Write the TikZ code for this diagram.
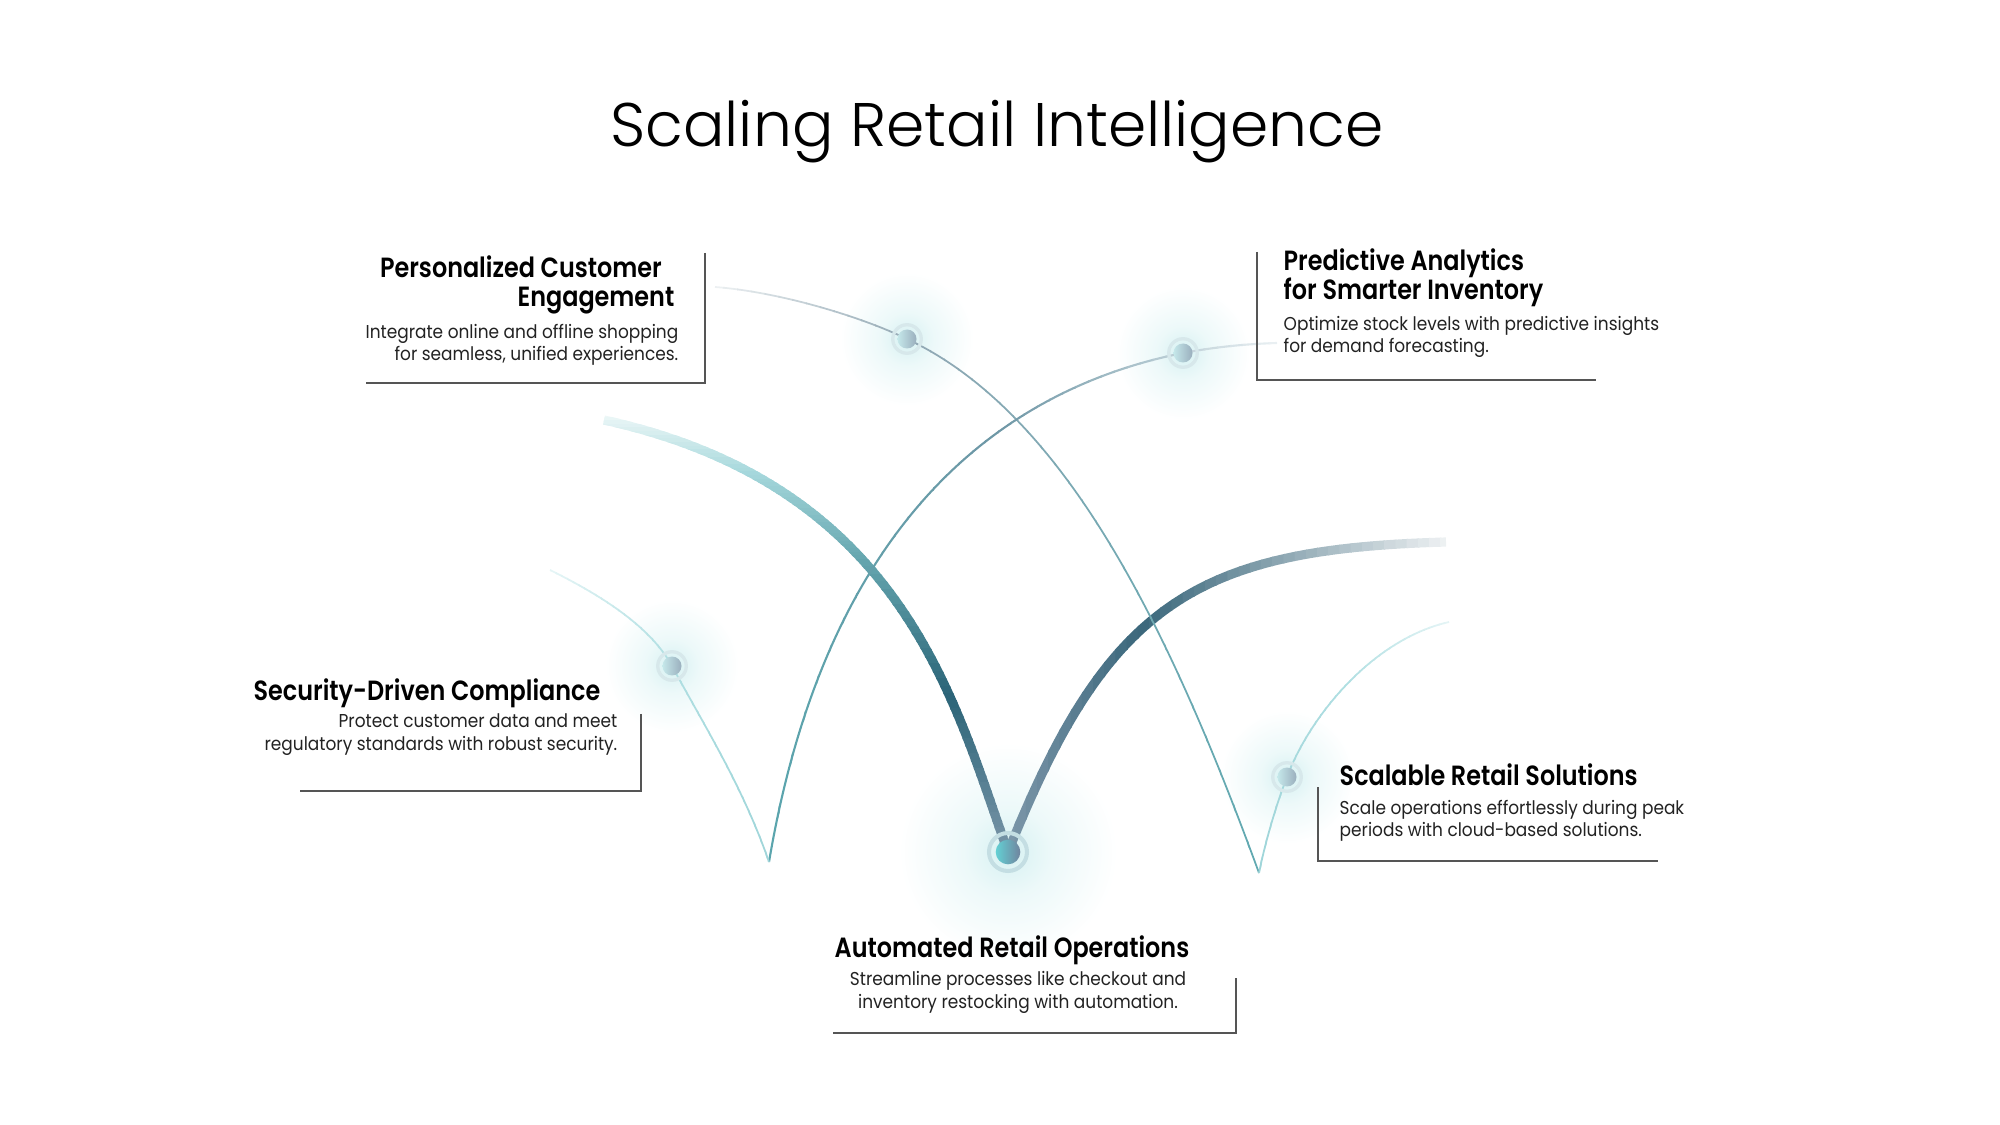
\documentclass[tikz,border=0pt]{standalone}
\usepackage{fontspec}
\setmainfont{Poppins}[FakeStretch=0.91]
\IfFontExistsTF{Poppins Light}{\newfontfamily\titlefont{Poppins Light}}{\newfontfamily\titlefont{Poppins}}
\IfFontExistsTF{Poppins SemiBold}{\newfontfamily\headfont{Poppins SemiBold}[FakeStretch=0.86]}{\def\headfont{\bfseries}}
\usepackage{xcolor}
\usetikzlibrary{calc}

\definecolor{armmist}{RGB}{238,248,248}
\definecolor{armsky}{RGB}{166,216,220}
\definecolor{armteal}{RGB}{100,165,174}
\definecolor{armdeep}{RGB}{43,100,119}
\definecolor{armslate}{RGB}{125,151,170}
\definecolor{armdark}{RGB}{58,103,123}
\definecolor{armfog}{RGB}{243,245,246}
\definecolor{wirefog}{RGB}{238,242,243}
\definecolor{wiregrey}{RGB}{148,169,181}
\definecolor{wireteal}{RGB}{95,169,177}
\definecolor{wiresea}{RGB}{90,165,173}
\definecolor{wiresteel}{RGB}{111,151,166}
\definecolor{wireend}{RGB}{238,243,245}
\definecolor{wispfog}{RGB}{232,246,247}
\definecolor{wispmid}{RGB}{176,223,226}
\definecolor{wisplow}{RGB}{159,213,217}
\definecolor{glowcyan}{RGB}{214,241,242}
\definecolor{ringgrey}{RGB}{215,232,235}
\definecolor{hubring}{RGB}{196,222,227}
\definecolor{dotcyan}{RGB}{197,232,234}
\definecolor{dotslate}{RGB}{154,174,189}
\definecolor{hubcyan}{RGB}{99,208,212}
\definecolor{hubslate}{RGB}{112,132,158}
\definecolor{boxgrey}{RGB}{85,85,85}
\definecolor{textgrey}{RGB}{34,34,34}

\pgfdeclareradialshading{glow}{\pgfpointorigin}{color(0bp)=(glowcyan); color(10bp)=(glowcyan!45!white); color(25bp)=(white); color(50bp)=(white)}

% curve drawn band by band, colour running a -> b -> c
\newcommand{\bandarc}[9]{%
  \foreach \k in {0,...,39}{
    \pgfmathsetmacro{\lo}{#2+(#3-#2)/40*\k}
    \pgfmathsetmacro{\hi}{#2+(#3-#2)/40*(\k+1)}
    \pgfmathtruncatemacro{\f}{100*(\k+0.5)/40}
    \ifnum\f<#7
      \pgfmathtruncatemacro{\p}{100*\f/#7}
      \colorlet{band}{#5!\p!#4}
    \else
      \pgfmathtruncatemacro{\p}{100*(\f-#7)/(100-#7)}
      \colorlet{band}{#6!\p!#5}
    \fi
    \begin{scope}
      \if#1x\clip (\lo-0.6,0) rectangle (\hi+0.6,1125);
      \else\clip (0,\lo-0.6) rectangle (2000,\hi+0.6);\fi
      \draw[band, line width=#8] #9;
    \end{scope}
  }
}

\tikzset{
  halo/.style={circle, inner sep=0pt, minimum size=38pt, shading=glow},
  bighalo/.style={halo, minimum size=62pt},
  ring/.style={circle, inner sep=0pt, draw=ringgrey, line width=0.95pt, minimum size=8.1pt},
  bigring/.style={ring, draw=hubring, line width=1.15pt, minimum size=10.8pt},
  dot/.style={circle, inner sep=0pt, minimum size=5.4pt, left color=dotcyan, right color=dotslate},
  hub/.style={circle, inner sep=0pt, minimum size=7pt, left color=hubcyan, right color=hubslate},
  head/.style={font=\headfont\fontsize{7.9}{8.3}\selectfont, inner sep=0pt},
  desc/.style={font=\fontsize{5.3}{6.5}\selectfont, text=textgrey, inner sep=0pt},
  boxline/.style={draw=boxgrey, line width=0.4pt}
}

\begin{document}
\begin{tikzpicture}[x=0.01cm, y=-0.01cm]
\useasboundingbox (0,0) rectangle (2000,1125);

% points
\coordinate (pPers) at (907,339);
\coordinate (pPred) at (1183,353);
\coordinate (pSec) at (672,666);
\coordinate (pAuto) at (1008,852);
\coordinate (pScal) at (1287,777);
\coordinate (cuspL) at (769,862);
\coordinate (cuspR) at (1259,873);
\coordinate (armL) at (604,420);
\coordinate (armR) at (1446,542);
\coordinate (wireA) at (715,287);
\coordinate (wireB) at (1277,343);
\coordinate (wispL) at (550,570);
\coordinate (wispR) at (1449,622);

% glow
\node[halo] (glowPers) at (pPers) {};
\node[halo] (glowPred) at (pPred) {};
\node[halo] (glowSec) at (pSec) {};
\node[halo] (glowScal) at (pScal) {};
\node[bighalo] (glowAuto) at (pAuto) {};

% thick V
\bandarc{y}{414}{560}{armmist}{armsky}{armteal}{40}{2.6pt}{(armL) .. controls (904,486) and (954,702) .. (pAuto)}
\bandarc{y}{560}{858}{armteal}{armdeep}{armslate}{45}{2.6pt}{(armL) .. controls (904,486) and (954,702) .. (pAuto)}
\bandarc{x}{1004}{1452}{armslate}{armdark}{armfog}{30}{2.6pt}{(pAuto) .. controls (1108,602) and (1196,549) .. (armR)}

% thin lines
\bandarc{x}{710}{1262}{wirefog}{wiregrey}{wireteal}{35}{0.5pt}{(wireA) .. controls (780,292) and (862,317) .. (pPers) .. controls (1067,414) and (1171,633) .. (cuspR)}
\bandarc{x}{766}{1282}{wiresea}{wiresteel}{wireend}{45}{0.6pt}{(cuspL) .. controls (823,542) and (983,393) .. (pPred) .. controls (1215,347) and (1245,344) .. (wireB)}
\bandarc{x}{545}{772}{wispfog}{wispmid}{wisplow}{55}{0.5pt}{(wispL) .. controls (590,590) and (648,622) .. (pSec) .. controls (705,727) and (743,787) .. (cuspL)}
\bandarc{x}{1256}{1454}{wisplow}{wispmid}{wispfog}{45}{0.5pt}{(cuspR) .. controls (1265,843) and (1276,805) .. (pScal) .. controls (1308,720) and (1370,640) .. (wispR)}

% markers
\node[ring] (ringPers) at (pPers) {};
\node[ring] (ringPred) at (pPred) {};
\node[ring] (ringSec) at (pSec) {};
\node[ring] (ringScal) at (pScal) {};
\node[bigring] (ringAuto) at (pAuto) {};
\node[dot] (dotPers) at (pPers) {};
\node[dot] (dotPred) at (pPred) {};
\node[dot] (dotSec) at (pSec) {};
\node[dot] (dotScal) at (pScal) {};
\node[hub] (dotAuto) at (pAuto) {};

% title
\node[font=\titlefont\fontsize{17.5}{21}\selectfont, anchor=base, inner sep=0pt] (title) at (997,147) {Scaling Retail Intelligence};

% Personalized Customer Engagement
\draw[boxline] (705,253) -- (705,383) -- (366,383);
\node[head, align=right, anchor=base east] (persHead) at (675,307) {Personalized Customer\hspace*{0.45em}\\Engagement};
\node[desc, align=right, anchor=base east] (persText) at (679,361) {Integrate online and offline shopping\\for seamless, unified experiences.};

% Predictive Analytics
\draw[boxline] (1257,252) -- (1257,380) -- (1596,380);
\node[head, align=left, anchor=base west] (predHead) at (1283,300) {Predictive Analytics\\for Smarter Inventory};
\node[desc, align=left, anchor=base west] (predText) at (1283,353) {Optimize stock levels with predictive insights\\for demand forecasting.};

% Security-Driven Compliance
\draw[boxline] (641,714) -- (641,791) -- (300,791);
\node[head, anchor=base east] (secHead) at (601,700) {Security-Driven Compliance};
\node[desc, align=right, anchor=base east] (secText) at (618,750) {Protect customer data and meet\\regulatory standards with robust security.};

% Automated Retail Operations
\draw[boxline] (1236,978) -- (1236,1033) -- (833,1033);
\node[head, anchor=base] (autoHead) at (1012,957) {Automated Retail Operations};
\node[desc, align=center, anchor=base] (autoText) at (1018,1008) {Streamline processes like checkout and\\inventory restocking with automation.};

% Scalable Retail Solutions
\draw[boxline] (1318,787) -- (1318,861) -- (1658,861);
\node[head, anchor=base west] (scalHead) at (1339,785) {Scalable Retail Solutions};
\node[desc, align=left, anchor=base west] (scalText) at (1339,837) {Scale operations effortlessly during peak\\periods with cloud-based solutions.};

\end{tikzpicture}
\end{document}
